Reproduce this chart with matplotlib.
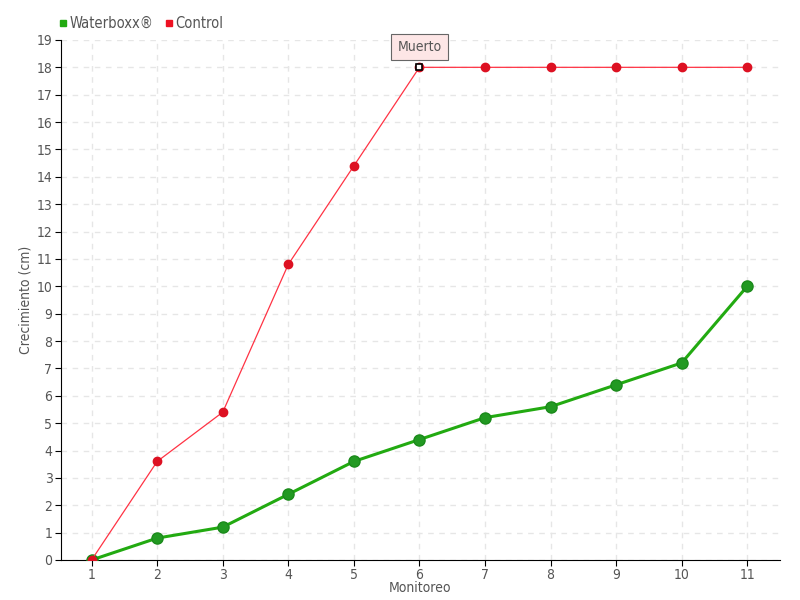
import matplotlib
matplotlib.use('Agg')
import matplotlib.pyplot as plt
from matplotlib.lines import Line2D

monitoreo = [1, 2, 3, 4, 5, 6, 7, 8, 9, 10, 11]
waterboxx = [0, 0.8, 1.2, 2.4, 3.6, 4.4, 5.2, 5.6, 6.4, 7.2, 10.0]
control = [0, 3.6, 5.4, 10.8, 14.4, 18, 18, 18, 18, 18, 18]

txt = '#555555'
plt.rcParams['font.family'] = ['DejaVu Sans']
plt.rcParams['font.stretch'] = 'condensed'

fig = plt.figure(figsize=(8, 6), dpi=100)
ax = fig.add_axes([0.076, 0.0667, 0.899, 0.8667])

ax.plot(monitoreo, waterboxx, color='#22aa11', lw=2.2, marker='o', ms=8,
        mfc='#229922', mec='#1a8a1a', zorder=3)
ax.plot(monitoreo, control, color='#ff3344', lw=0.9, marker='o', ms=6,
        mfc='#dd1122', mec='#dd1122', zorder=4)
# point marked as dead
ax.plot([6], [18], marker='s', ms=5, mfc='white', mec='black', mew=1.2, zorder=5)
ax.annotate('Muerto', xy=(6, 18), xytext=(6, 18.75), ha='center', va='center',
            fontsize=10, color=txt,
            bbox=dict(boxstyle='square,pad=0.45', fc='#fde6e6', ec='#666666', lw=0.8),
            zorder=6)

ax.set_xlim(0.53, 11.5)
ax.set_ylim(0, 19)
ax.set_xticks(monitoreo)
ax.set_yticks(range(0, 20))
ax.grid(True, color='#e6e6e6', ls=(0, (4, 4)), lw=1)
ax.set_axisbelow(True)
for s in ['top', 'right']:
    ax.spines[s].set_visible(False)
ax.tick_params(colors='black', labelcolor=txt, labelsize=10, length=4, pad=2)
ax.set_xlabel('Monitoreo', color=txt, fontsize=10, labelpad=-1)
ax.set_ylabel('Crecimiento (cm)', color=txt, fontsize=10)
ax.yaxis.set_label_coords(-0.04, 0.5)

handles = [Line2D([], [], ls='', marker='s', ms=5, color='#22aa11'),
           Line2D([], [], ls='', marker='s', ms=5, color='#ee1122')]
fig.legend(handles, ['Waterboxx®', 'Control'], loc='upper left',
           bbox_to_anchor=(0.052, 0.995), ncol=2, frameon=False, fontsize=10.5,
           handletextpad=-0.2, columnspacing=0.5, handlelength=1.2, labelcolor=txt)

fig.savefig('out.png', dpi=100)
